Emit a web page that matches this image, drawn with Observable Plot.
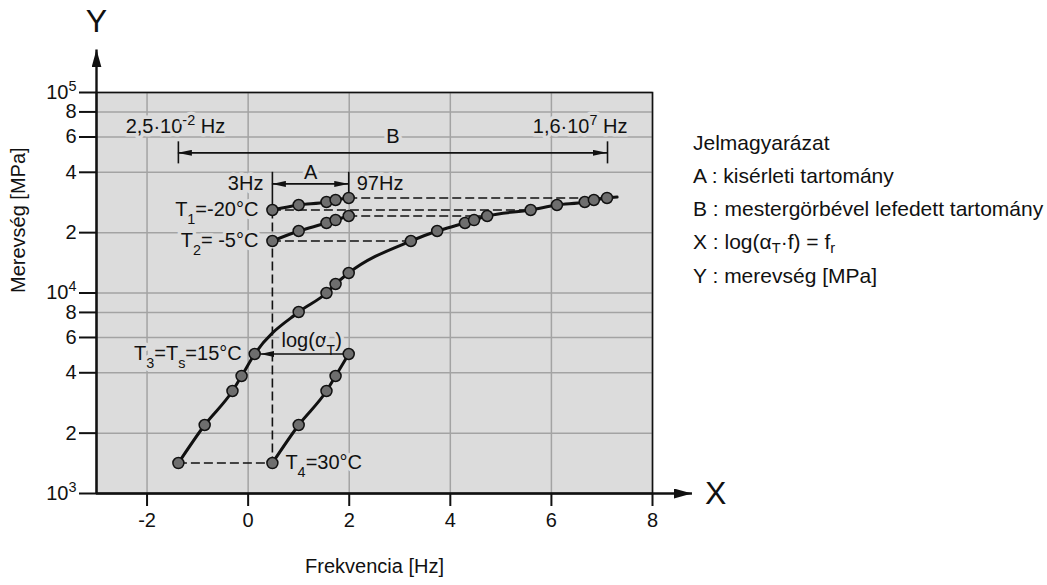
<!DOCTYPE html>
<html>
<head>
<meta charset="utf-8">
<script src="https://cdn.jsdelivr.net/npm/d3@7"></script>
<script src="https://cdn.jsdelivr.net/npm/@observablehq/plot@0.6"></script>
<style>
  body { margin: 0; background: #fff; font-family: "Liberation Sans", Arial, sans-serif; }
  #wrap { position: relative; width: 1047px; height: 585px; }
  #legend { position: absolute; left: 693px; top: 0; font-size: 21px; color: #111; }
  #legend div { position: absolute; left: 0; white-space: nowrap; transform: translateY(-50%); }
  #legend .sub { font-size: 70%; vertical-align: -0.25em; }
</style>
</head>
<body>
<div id="wrap"><div id="chart"></div><div id="legend"></div></div>
<script>
// ---------- data ----------
// measured frequencies (log10 Hz): 3 Hz ... 97 Hz
const measLogFreq = [0.48, 1.00, 1.55, 1.73, 1.99];
// stiffness [MPa] at each temperature
const stiffT1 = [25940, 27470, 28440, 29100, 29780];   // -20 °C
const stiffT2 = [18170, 20380, 22340, 23120, 24210];   // -5 °C
const stiffT4 = [1419, 2196, 3245, 3855, 4963];        // 30 °C
// reference temperature 15 °C (points lying on the master curve)
const freqT3 = [1.00, 1.55, 1.73, 1.99];
const stiffT3 = [8040, 10000, 11090, 12580];
// horizontal shift log(aT) of each temperature onto the master curve
const shiftT1 = 5.11, shiftT2 = 2.74, shiftT4 = -1.86;
// end of the drawn master curve
const masterEnd = {x: 7.30, y: 30100};

// axes
const xTicks = [-2, 0, 2, 4, 6, 8];
const xTickLabels = ["-2", "0", "2", "4", "6", "8"];
const yTicks = [1e3, 2e3, 4e3, 6e3, 8e3, 1e4, 2e4, 4e4, 6e4, 8e4, 1e5];
const yTickLabels = ["10^{3}", "2", "4", "6", "8", "10^{4}", "2", "4", "6", "8", "10^{5}"];

// annotation texts
const tempLabels = ["T_{1}=-20°C", "T_{2}= -5°C", "T_{3}=T_{s}=15°C", "T_{4}=30°C"];
const rangeA = {from: "3Hz", to: "97Hz", name: "A", y: 35000};
const rangeB = {x1: -1.38, x2: 7.11, from: "2,5·10^{-2} Hz", to: "1,6·10^{7} Hz", name: "B", y: 50000};
const shiftLabel = "log(α_{T})";
const legendTitle = "Jelmagyarázat";
const legendItems = [
  "A : kisérleti tartomány",
  "B : mestergörbével lefedett tartomány",
  "X : log(α<span class='sub'>T</span>·f) = f<span class='sub'>r</span>",
  "Y : merevség [MPa]"
];

// ---------- derived tables ----------
const rows = (xs, ys, series) => xs.map((x, i) => ({x, y: ys[i], series}));
const raw = [
  ...rows(measLogFreq, stiffT1, "T1"),
  ...rows(measLogFreq, stiffT2, "T2"),
  ...rows(measLogFreq, stiffT4, "T4")
];
const master = [
  ...rows(measLogFreq.map(x => x + shiftT4), stiffT4, "T4s"),
  ...rows(freqT3, stiffT3, "T3"),
  ...rows(measLogFreq.map(x => x + shiftT2), stiffT2, "T2s"),
  ...rows(measLogFreq.map(x => x + shiftT1), stiffT1, "T1s")
].sort((a, b) => a.x - b.x);
const masterCurve = [...master, masterEnd];

const first = 0, last = measLogFreq.length - 1;
const dashedH = [
  {y: stiffT1[first], x1: measLogFreq[first], x2: measLogFreq[first] + shiftT1},
  {y: stiffT1[last],  x1: measLogFreq[last],  x2: measLogFreq[last] + shiftT1},
  {y: stiffT2[first], x1: measLogFreq[first], x2: measLogFreq[first] + shiftT2},
  {y: stiffT2[last],  x1: measLogFreq[last],  x2: measLogFreq[last] + shiftT2},
  {y: stiffT4[first], x1: measLogFreq[first] + shiftT4, x2: measLogFreq[first]}
];
const dashedV = [{x: measLogFreq[first], y1: stiffT1[first], y2: stiffT4[first]}];
const shiftArrow = [{y: stiffT4[last], x1: measLogFreq[last], x2: measLogFreq[last] + shiftT4}];
const aTicks = [
  {x: measLogFreq[first], y1: 40000, y2: stiffT1[first]},
  {x: measLogFreq[last],  y1: 40000, y2: stiffT1[last]}
];
const bTicks = [rangeB.x1, rangeB.x2].map(x => ({x, y1: rangeB.y / 1.135, y2: rangeB.y * 1.135}));

const haloText = [
  {x: measLogFreq[first], y: stiffT1[first], t: tempLabels[0], a: "end", dx: -14},
  {x: measLogFreq[first], y: stiffT2[first], t: tempLabels[1], a: "end", dx: -14},
  {x: measLogFreq[last] + shiftT4, y: stiffT4[last], t: tempLabels[2], a: "end", dx: -13},
  {x: measLogFreq[first], y: stiffT4[first], t: tempLabels[3], a: "start", dx: 13},
  {x: measLogFreq[first], y: rangeA.y, t: rangeA.from, a: "end", dx: -9},
  {x: measLogFreq[last], y: rangeA.y, t: rangeA.to, a: "start", dx: 8},
  {x: (measLogFreq[first] + measLogFreq[last]) / 2, y: 40000, t: rangeA.name, a: "middle", dx: 0},
  {x: (rangeB.x1 + rangeB.x2) / 2, y: 60000, t: rangeB.name, a: "middle", dx: 0},
  {x: rangeB.x1, y: rangeB.y, t: rangeB.from, a: "middle", dx: -3, dy: -26},
  {x: rangeB.x2, y: rangeB.y, t: rangeB.to, a: "end", dx: 20, dy: -26},
  {x: (measLogFreq[last] + measLogFreq[last] + shiftT4) / 2, y: stiffT4[last], t: shiftLabel, a: "middle", dx: 10, dy: -13}
];

const BG = "#dcdcdc";
const INK = "#111";
const FONT = "'Liberation Sans', Arial, sans-serif";

const plot = Plot.plot({
  width: 1047,
  height: 585,
  marginLeft: 96,
  marginRight: 395,
  marginTop: 92,
  marginBottom: 92,
  style: {fontFamily: FONT, fontSize: "20px", background: "white", color: INK, overflow: "visible"},
  x: {domain: [-3, 8]},
  y: {type: "log", domain: [1e3, 1e5]},
  marks: [
    Plot.frame({fill: BG}),
    Plot.ruleX(xTicks, {stroke: "#a3a3a3", strokeWidth: 1.5}),
    Plot.ruleY(yTicks, {stroke: "#a3a3a3", strokeWidth: 1.5}),
    Plot.frame({stroke: INK, strokeWidth: 1.6}),
    Plot.axisX({ticks: xTicks, tickFormat: d => xTickLabels[xTicks.indexOf(d)], tickSize: 13, tickPadding: 6,
      strokeWidth: 2, fontSize: 20, label: null}),
    Plot.axisY({ticks: yTicks, tickFormat: () => "", tickSize: 17, strokeWidth: 2, label: null}),
    Plot.text(yTicks, {x: -3, y: d => d, text: (d, i) => yTickLabels[i], textAnchor: "end", dx: -20, fontSize: 20, fill: INK}),
    // axis lines with arrows
    Plot.ruleX([-3], {y1: 1e3, y2: 163000, stroke: INK, strokeWidth: 2.4, className: "axis-arrow"}),
    Plot.ruleY([1e3], {x1: -3, x2: 8.79, stroke: INK, strokeWidth: 2.4, className: "axis-arrow"}),
    Plot.text(["Y"], {x: -3, y: 225000, fontSize: 32, textAnchor: "middle", fill: INK}),
    Plot.text(["X"], {x: 9.25, y: 1e3, fontSize: 32, textAnchor: "middle", fill: INK}),
    Plot.text(["Frekvencia [Hz]"], {frameAnchor: "bottom", dy: 79, fontSize: 20, fill: INK}),
    Plot.text(["Merevség [MPa]"], {frameAnchor: "left", dx: -78, rotate: -90, fontSize: 20, fill: INK}),
    // annotation texts (with background halo)
    ...haloText.map(d => Plot.text([d], {x: "x", y: "y", text: "t", textAnchor: d.a, dx: d.dx, dy: d.dy || 0,
      fill: INK, stroke: BG, strokeWidth: 7, className: "halo"})),
    // dashed construction lines
    Plot.ruleY(dashedH, {y: "y", x1: "x1", x2: "x2", stroke: INK, strokeWidth: 1.6, strokeDasharray: "9,4"}),
    Plot.ruleX(dashedV, {x: "x", y1: "y1", y2: "y2", stroke: INK, strokeWidth: 1.6, strokeDasharray: "9,4"}),
    // range brackets
    Plot.ruleX(aTicks, {x: "x", y1: "y1", y2: "y2", stroke: INK, strokeWidth: 1.6}),
    Plot.ruleX(bTicks, {x: "x", y1: "y1", y2: "y2", stroke: INK, strokeWidth: 1.6}),
    Plot.ruleY([rangeA], {y: "y", x1: measLogFreq[first], x2: measLogFreq[last], stroke: INK, strokeWidth: 1.6, className: "dbl-arrow"}),
    Plot.ruleY([rangeB], {y: "y", x1: "x1", x2: "x2", stroke: INK, strokeWidth: 1.6, className: "dbl-arrow"}),
    Plot.ruleY(shiftArrow, {y: "y", x1: "x1", x2: "x2", stroke: INK, strokeWidth: 1.6, className: "shift-arrow"}),
    // curves
    Plot.line(raw, {x: "x", y: "y", z: "series", curve: "monotone-x", stroke: INK, strokeWidth: 3}),
    Plot.line(masterCurve, {x: "x", y: "y", curve: "monotone-x", stroke: INK, strokeWidth: 3}),
    // points
    Plot.dot([...raw, ...master], {x: "x", y: "y", r: 5.5, fill: "#6e6e6e", stroke: INK, strokeWidth: 1.5})
  ]
});

// ---------- post-processing: arrowheads, halos, sub/superscripts ----------
const NS = "http://www.w3.org/2000/svg";
const defs = document.createElementNS(NS, "defs");
function addMarker(id, len, w, refX) {
  const m = document.createElementNS(NS, "marker");
  m.setAttribute("id", id);
  m.setAttribute("markerUnits", "userSpaceOnUse");
  m.setAttribute("viewBox", `0 0 ${Math.max(len, refX)} ${w}`);
  m.setAttribute("markerWidth", Math.max(len, refX));
  m.setAttribute("markerHeight", w);
  m.setAttribute("refX", refX);
  m.setAttribute("refY", w / 2);
  m.setAttribute("orient", "auto-start-reverse");
  const p = document.createElementNS(NS, "path");
  p.setAttribute("d", `M0,0L${len},${w / 2}L0,${w}Z`);
  p.setAttribute("fill", INK);
  m.appendChild(p);
  defs.appendChild(m);
}
addMarker("ah-small", 14, 6, 14);
addMarker("ah-shift", 14, 6, 20);
addMarker("ah-axis", 18, 10, 18);
plot.insertBefore(defs, plot.firstChild);
plot.querySelectorAll("g.dbl-arrow line").forEach(l => {
  l.setAttribute("marker-start", "url(#ah-small)");
  l.setAttribute("marker-end", "url(#ah-small)");
});
plot.querySelectorAll("g.shift-arrow line").forEach(l => l.setAttribute("marker-end", "url(#ah-shift)"));
plot.querySelectorAll("g.axis-arrow line").forEach(l => l.setAttribute("marker-end", "url(#ah-axis)"));
plot.querySelectorAll("g.halo").forEach(g => {
  g.setAttribute("paint-order", "stroke");
  g.setAttribute("stroke-linejoin", "round");
});

function richText(root) {
  root.querySelectorAll("text").forEach(t => {
    const leaves = t.querySelector("tspan") ? [...t.querySelectorAll("tspan")] : [t];
    leaves.forEach(n => {
      const s = n.textContent;
      if (!/[_^]\{/.test(s)) return;
      n.textContent = "";
      const re = /([_^])\{([^}]*)\}/g;
      let lastIdx = 0, m;
      const add = (txt, kind) => {
        const ts = document.createElementNS(NS, "tspan");
        ts.textContent = txt;
        if (kind) {
          ts.setAttribute("font-size", "72%");
          ts.setAttribute("baseline-shift", kind === "^" ? "super" : "sub");
        }
        n.appendChild(ts);
      };
      while ((m = re.exec(s))) {
        if (m.index > lastIdx) add(s.slice(lastIdx, m.index));
        add(m[2], m[1]);
        lastIdx = re.lastIndex;
      }
      if (lastIdx < s.length) add(s.slice(lastIdx));
    });
  });
}
richText(plot);
document.getElementById("chart").appendChild(plot);

// ---------- legend (HTML, right of the chart) ----------
const legend = document.getElementById("legend");
const legendTops = [143, 176, 209, 243, 276];
[legendTitle, ...legendItems].forEach((html, i) => {
  const div = document.createElement("div");
  div.innerHTML = html;
  div.style.top = legendTops[i] + "px";
  legend.appendChild(div);
});
</script>
</body>
</html>
